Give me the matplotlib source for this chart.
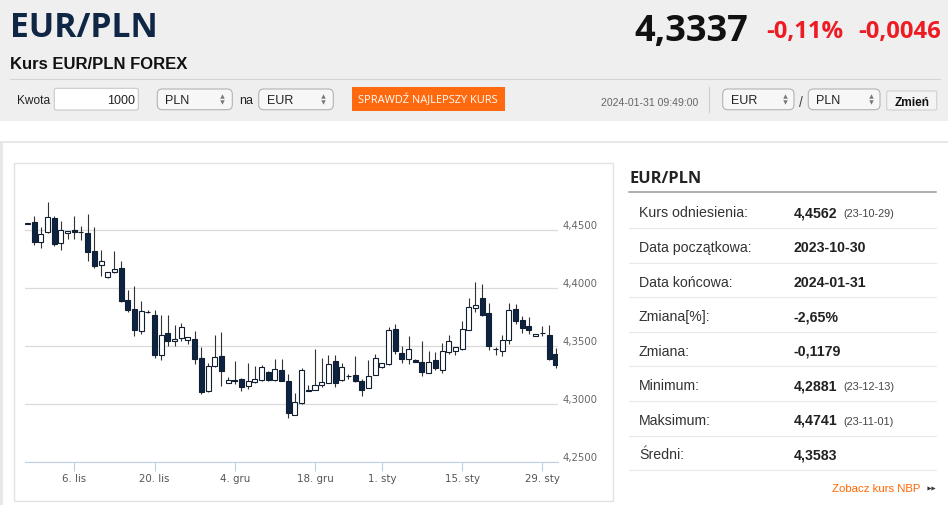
import matplotlib
matplotlib.use('Agg')
import matplotlib.pyplot as plt
from matplotlib.patches import FancyBboxPatch, Rectangle
from matplotlib.transforms import ScaledTranslation
import numpy as np
import pandas as pd

# ---------------- data ----------------
dates = [d for d in pd.date_range('2023-10-29', '2024-01-31')
         if d.weekday() != 5 and d.strftime('%Y-%m-%d') not in ('2023-12-25', '2024-01-01')]

open_ = [4.4560, 4.4569, 4.4399, 4.4483, 4.4609, 4.4391, 4.4480, 4.4500, 4.4484, 4.4477,
         4.4325, 4.4204, 4.4098, 4.4138, 4.4172, 4.3902, 4.3822, 4.3635, 4.3800, 4.3767,
         4.3422, 4.3615, 4.3543, 4.3572, 4.3552, 4.3566, 4.3399, 4.3112, 4.3328, 4.3414,
         4.3184, 4.3210, 4.3216, 4.3155, 4.3190, 4.3210, 4.3276, 4.3213, 4.3299, 4.3198,
         4.2911, 4.3011, 4.3120, 4.3121, 4.3164, 4.3184, 4.3376, 4.3207, 4.3244, 4.3256,
         4.3204, 4.3141, 4.3256, 4.3319, 4.3348, 4.3652, 4.3443, 4.3391, 4.3385, 4.3365,
         4.3271, 4.3380, 4.3300, 4.3449, 4.3457, 4.3477, 4.3643, 4.3834, 4.3914, 4.3791,
         4.3480, 4.3457, 4.3557, 4.3820, 4.3723, 4.3677, 4.3586, 4.3617, 4.3600, 4.3434]
high = [4.4562, 4.4621, 4.4526, 4.4741, 4.4621, 4.4578, 4.4491, 4.4626, 4.4541, 4.4638,
        4.4529, 4.4328, 4.4141, 4.4319, 4.4233, 4.3989, 4.4023, 4.3888, 4.3813, 4.3816,
        4.3773, 4.3773, 4.3687, 4.3701, 4.3578, 4.3635, 4.3491, 4.3356, 4.3601, 4.3621,
        4.3233, 4.3376, 4.3227, 4.3356, 4.3328, 4.3342, 4.3290, 4.3391, 4.3391, 4.3261,
        4.3098, 4.3313, 4.3164, 4.3477, 4.3399, 4.3422, 4.3422, 4.3356, 4.3261, 4.3414,
        4.3218, 4.3385, 4.3434, 4.3356, 4.3664, 4.3693, 4.3500, 4.3586, 4.3394, 4.3543,
        4.3457, 4.3449, 4.3529, 4.3600, 4.3491, 4.3714, 4.3914, 4.4057, 4.4034, 4.3877,
        4.3494, 4.3600, 4.3877, 4.3866, 4.3763, 4.3751, 4.3609, 4.3677, 4.3686, 4.3486]
low = [4.4553, 4.4376, 4.4348, 4.4477, 4.4362, 4.4328, 4.4425, 4.4425, 4.4420, 4.4233,
       4.4178, 4.4103, 4.4092, 4.4132, 4.3879, 4.3793, 4.3592, 4.3609, 4.3785, 4.3399,
       4.3385, 4.3500, 4.3506, 4.3549, 4.3520, 4.3351, 4.3092, 4.3106, 4.3319, 4.3155,
       4.3184, 4.3175, 4.3118, 4.3135, 4.3184, 4.3204, 4.3198, 4.3204, 4.3198, 4.2881,
       4.2905, 4.3003, 4.3118, 4.3121, 4.3147, 4.3184, 4.3147, 4.3198, 4.3218, 4.3193,
       4.3069, 4.3141, 4.3250, 4.3313, 4.3342, 4.3434, 4.3356, 4.3351, 4.3365, 4.3241,
       4.3271, 4.3294, 4.3271, 4.3437, 4.3429, 4.3471, 4.3637, 4.3800, 4.3763, 4.3471,
       4.3429, 4.3420, 4.3523, 4.3691, 4.3614, 4.3606, 4.3586, 4.3586, 4.3386, 4.3314]
close = [4.4556, 4.4397, 4.4471, 4.4612, 4.4385, 4.4500, 4.4491, 4.4486, 4.4482, 4.4316,
         4.4190, 4.4233, 4.4141, 4.4170, 4.3894, 4.3816, 4.3638, 4.3802, 4.3797, 4.3422,
         4.3601, 4.3543, 4.3560, 4.3664, 4.3578, 4.3391, 4.3103, 4.3328, 4.3405, 4.3290,
         4.3210, 4.3204, 4.3147, 4.3198, 4.3218, 4.3319, 4.3213, 4.3305, 4.3198, 4.2925,
         4.3020, 4.3299, 4.3118, 4.3164, 4.3190, 4.3348, 4.3184, 4.3322, 4.3241, 4.3198,
         4.3126, 4.3247, 4.3399, 4.3356, 4.3644, 4.3457, 4.3391, 4.3480, 4.3365, 4.3279,
         4.3363, 4.3314, 4.3457, 4.3543, 4.3491, 4.3649, 4.3837, 4.3857, 4.3771, 4.3506,
         4.3477, 4.3557, 4.3809, 4.3720, 4.3657, 4.3643, 4.3609, 4.3614, 4.3391, 4.3337]

y_ticks = [4.25, 4.30, 4.35, 4.40, 4.45]
x_tick_dates = ['2023-11-06', '2023-11-20', '2023-12-04', '2023-12-18',
                '2024-01-01', '2024-01-15', '2024-01-29']
x_tick_labels = ['6. lis', '20. lis', '4. gru', '18. gru', '1. sty', '15. sty', '29. sty']

stat_labels = ['Kurs odniesienia:', 'Data początkowa:', 'Data końcowa:', 'Zmiana[%]:',
               'Zmiana:', 'Minimum:', 'Maksimum:', 'Średni:']
stat_values = ['4,4562', '2023-10-30', '2024-01-31', '-2,65%', '-0,1179',
               '4,2881', '4,4741', '4,3583']
stat_dates = ['(23-10-29)', '', '', '', '', '(23-12-13)', '(23-11-01)', '']

# ---------------- figure / page ----------------
W, H = 948, 506
fig = plt.figure(figsize=(W / 100, H / 100), dpi=100)
pg = fig.add_axes([0, 0, 1, 1])
pg.set_xlim(0, W)
pg.set_ylim(H, 0)
pg.axis('off')

SANS = ['Liberation Sans', 'DejaVu Sans']
OPEN = ['Open Sans', 'DejaVu Sans']
ORANGE = '#ff6600'
RED = '#ed1c24'

pg.add_patch(Rectangle((0, 0), W, 122, facecolor='#efefef', edgecolor='none'))
pg.add_patch(Rectangle((0, 141.5), W, 2.5, facecolor='#e8e8e8', edgecolor='none'))
pg.add_patch(Rectangle((0, 141.5), 3, H - 141.5, facecolor='#e8e8e8', edgecolor='none'))

# title block
pg.text(10, 37.3, 'EUR/PLN', fontsize=24.2, family=OPEN, weight='bold',
        color='#0f2645', va='baseline', ha='left')
pg.text(10, 69, 'Kurs EUR/PLN FOREX', fontsize=12, family=SANS, weight='bold',
        color='#111111', va='baseline', ha='left')
pg.text(748, 40.7, '4,3337', fontsize=26, family=OPEN, weight='bold',
        color='#111111', va='baseline', ha='right')
pg.text(843, 38.3, '-0,11%', fontsize=17.2, family=OPEN, weight='bold',
        color=RED, va='baseline', ha='right')
pg.text(941, 38.3, '-0,0046', fontsize=17.2, family=OPEN, weight='bold',
        color=RED, va='baseline', ha='right')
pg.plot([10, 940], [80.3, 80.3], color='#d4d4d4', lw=0.8)

# form row
def box(x0, y0, x1, y1, fc, ec, r=4, lw=0.8):
    pg.add_patch(FancyBboxPatch((x0, y0), x1 - x0, y1 - y0,
                                boxstyle=f'round,pad=0,rounding_size={r}',
                                facecolor=fc, edgecolor=ec, lw=lw))

def select(x0, x1, label, ax_x):
    box(x0, 90, x1, 110.7, '#f7f7f7', '#b3b3b3', r=5)
    pg.text(x0 + 8, 104, label, fontsize=9, family=SANS, color='#222222',
            va='baseline', ha='left')
    pg.plot([ax_x], [97.3], marker='^', ms=3.2, color='#777777', mec='none')
    pg.plot([ax_x], [103.2], marker='v', ms=3.2, color='#777777', mec='none')

pg.text(17.5, 104, 'Kwota', fontsize=8.6, family=SANS, color='#222222', va='baseline')
box(54.3, 89.3, 138.3, 111, 'white', '#c8c8c8', r=2)
pg.text(134.7, 104, '1000', fontsize=9, family=SANS, color='#222222',
        va='baseline', ha='right')
select(157.3, 232.3, 'PLN', 222)
pg.text(239.3, 104, 'na', fontsize=9, family=SANS, color='#222222', va='baseline')
select(258.7, 333.3, 'EUR', 323)
pg.add_patch(Rectangle((351.7, 88.3), 153.3, 23.4, facecolor='#ff6a0e', edgecolor='none'))
pg.text(428.3, 100.3, 'SPRAWDŹ NAJLEPSZY KURS', fontsize=7.9, family=OPEN,
        color='white', va='center', ha='center')

pg.text(600.7, 106.3, '2024-01-31 09:49:00', fontsize=7.6, family=SANS,
        color='#666666', va='baseline', ha='left')
pg.plot([709.3, 709.3], [88, 113], color='#cccccc', lw=0.8)
select(722.7, 794, 'EUR', 784.7)
pg.text(800.7, 106.5, '/', fontsize=10, family=SANS, color='#444444',
        va='baseline', ha='center')
select(808.3, 880, 'PLN', 870.7)
box(886.7, 92, 936.7, 111, '#f4f4f4', '#cfcfcf', r=1.5)
pg.text(911.7, 105.5, 'Zmień', fontsize=8.6, family=SANS, weight='bold',
        color='#111111', va='baseline', ha='center')

# chart frame
pg.add_patch(Rectangle((14.5, 163.5), 599, 338, facecolor='white',
                       edgecolor='#e2e2e2', lw=1))

# right panel
pg.text(630, 183.3, 'EUR/PLN', fontsize=11.8, family=OPEN, weight='bold',
        color='#222222', va='baseline')
pg.plot([629, 936], [193.3, 193.3], color='#9a9a9a', lw=1.1)
for k, (lab, val, dt) in enumerate(zip(stat_labels, stat_values, stat_dates)):
    yc = 212.3 + k * 34.57
    pg.text(639, yc + 5.1, lab, fontsize=10.2, family=SANS, color='#333333',
            va='baseline')
    pg.text(793.3, yc + 5.1, val, fontsize=10.2, family=SANS, weight='bold',
            color='#222222', va='baseline')
    if dt:
        pg.text(843.7, yc + 5.1, dt, fontsize=7.8, family=SANS, color='#444444',
                va='baseline')
    pg.plot([629, 936], [yc + 16.8, yc + 16.8], color='#e8e8e8', lw=0.8)
pg.text(920, 492, 'Zobacz kurs NBP', fontsize=8.2, family=SANS, color=ORANGE,
        va='baseline', ha='right')
pg.plot([929.5, 933.5], [488.5, 488.5], ls='none', marker='>', ms=3,
        color='#333333', mec='none')

# ---------------- candlestick chart ----------------
ax = fig.add_axes([25 / W, (H - 463.3) / H, 533 / W, 290 / H])
ax.patch.set_alpha(0)
o = np.array(open_); h = np.array(high); l = np.array(low); c = np.array(close)
x = np.arange(len(dates))
up = c >= o
ax.vlines(x, l, h, color='#333333', lw=0.8, zorder=2)
ax.bar(x, np.abs(c - o), bottom=np.minimum(o, c), width=0.75,
       color=np.where(up, 'white', '#0c2444'), edgecolor='#101e30',
       linewidth=0.8, zorder=3)

ax.set_xlim(-0.37, 79.34)
ax.set_ylim(4.25, 4.50)
for s in ['top', 'left', 'right']:
    ax.spines[s].set_visible(False)
ax.spines['bottom'].set_color('#c0d0e0')
ax.spines['bottom'].set_linewidth(0.8)

date_str = np.array([d.strftime('%Y-%m-%d') for d in dates])
tick_pos = [int(np.searchsorted(date_str, t, side='right') - 1) for t in x_tick_dates]
ax.set_xticks(tick_pos, x_tick_labels)
ax.tick_params(axis='x', direction='out', length=6.5, width=0.8, color='#c0d0e0',
               labelsize=7.4, labelcolor='#555555', pad=1.5)

ax.set_yticks(y_ticks, [f'{v:.4f}'.replace('.', ',') for v in y_ticks])
ax.yaxis.tick_right()
ax.tick_params(axis='y', length=0, pad=3.6, labelsize=7.3, labelcolor='#666666')
off = ScaledTranslation(0, 2.5 / 100, fig.dpi_scale_trans)
for lb in ax.get_yticklabels():
    lb.set_verticalalignment('baseline')
    lb.set_transform(lb.get_transform() + off)
ax.grid(axis='y', color='#dadada', lw=0.9, zorder=0)
ax.set_axisbelow(True)

fig.savefig('out.png', dpi=100)
